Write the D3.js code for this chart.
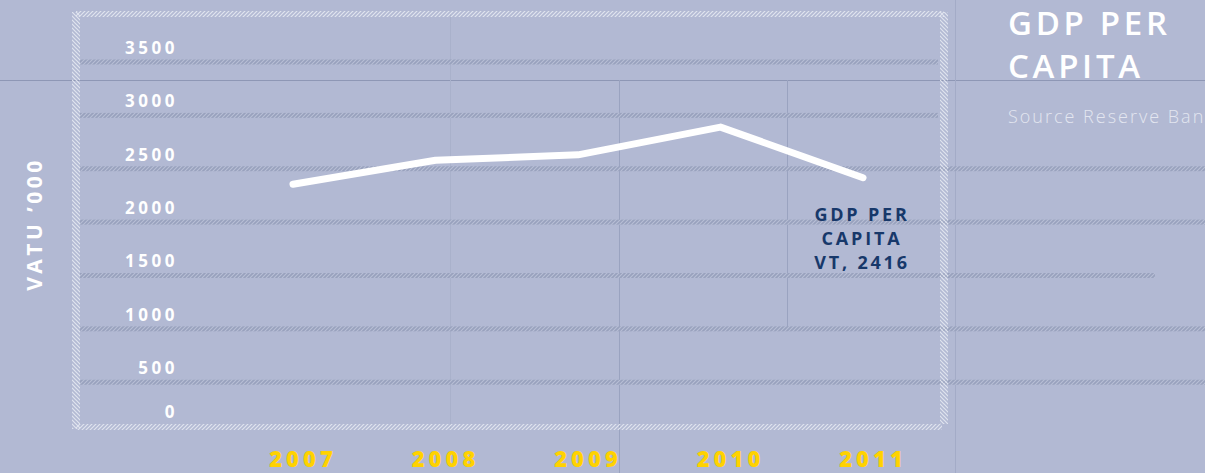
<!DOCTYPE html>
<html>
<head>
<meta charset="utf-8">
<script src="https://cdn.jsdelivr.net/npm/d3@7"></script>
<style>
  html, body { margin: 0; padding: 0; background: #b2b9d3; overflow: hidden; }
  text { font-family: "Open Sans", "DejaVu Sans", sans-serif; }
</style>
</head>
<body>
<div id="chart"></div>
<script>
// data
var years = ["2007", "2008", "2009", "2010", "2011"]
var gdpPerCapita = [2355, 2580, 2630, 2890, 2416]
var yTicks = [0, 500, 1000, 1500, 2000, 2500, 3000, 3500]
var chartTitle = ["GDP PER", "CAPITA"]
var sourceText = "Source Reserve Bank of Vanuatu"
var yTitle = "VATU \u2019000"
var noteLines = ["GDP PER", "CAPITA", "VT, 2416"]

var width = 1205, height = 473

var svg = d3.select("#chart")
  .append("svg")
    .attr("width", width)
    .attr("height", height)

svg.append("rect").attr("width", width).attr("height", height).attr("fill", "#b2b9d3")

// hatch patterns
var defs = svg.append("defs")
var pg = defs.append("pattern").attr("id", "gridHatch")
  .attr("patternUnits", "userSpaceOnUse").attr("width", 4).attr("height", 4)
pg.append("rect").attr("width", 4).attr("height", 4).attr("fill", "#98a1bd")
pg.append("path").attr("d", "M-1,5 L5,-1 M-1,1 L1,-1 M3,5 L5,3")
  .attr("stroke", "#b8bfd5").attr("stroke-width", 1.1)

var pf = defs.append("pattern").attr("id", "frameHatchH")
  .attr("patternUnits", "userSpaceOnUse").attr("width", 4).attr("height", 4)
pf.append("path").attr("d", "M-1,5 L5,-1 M-1,1 L1,-1 M3,5 L5,3")
  .attr("stroke", "#e0e4ef").attr("stroke-width", 1.2)

var pv = defs.append("pattern").attr("id", "frameHatchV")
  .attr("patternUnits", "userSpaceOnUse").attr("width", 4).attr("height", 4)
pv.append("path").attr("d", "M-1,-1 L5,5 M3,-1 L5,1 M-1,3 L1,5")
  .attr("stroke", "#e0e4ef").attr("stroke-width", 1.2)

// scales
var x = d3.scalePoint()
  .domain(years)
  .range([293, 863])

var y = d3.scaleLinear()
  .domain([0, 3500])
  .range([435.6, 62])

// thin guide lines
svg.append("line").attr("x1", 0).attr("x2", width).attr("y1", 80.5).attr("y2", 80.5)
  .attr("stroke", "#8e97b5").attr("stroke-width", 1)
var vlines = [[450.5, 14, 430, "#a9b1cb"], [619.5, 80, 473, "#9aa3c0"], [787.5, 80, 328, "#9aa3c0"], [955.5, 0, 473, "#a3abc7"]]
svg.selectAll(".vline").data(vlines).enter().append("line")
  .attr("x1", function(d) { return d[0] }).attr("x2", function(d) { return d[0] })
  .attr("y1", function(d) { return d[1] }).attr("y2", function(d) { return d[2] })
  .attr("stroke", function(d) { return d[3] }).attr("stroke-width", 1)

// gridlines (some run past the frame)
var gridEnd = { 500: 1205, 1000: 1205, 1500: 1155, 2000: 1205, 2500: 1205, 3000: 938, 3500: 938 }
svg.selectAll(".grid").data(yTicks.filter(function(d) { return d > 0 })).enter().append("rect")
  .attr("x", 80)
  .attr("y", function(d) { return y(d) - 2.5 })
  .attr("width", function(d) { return gridEnd[d] - 80 })
  .attr("height", 5)
  .attr("fill", "url(#gridHatch)")

// hatched frame
svg.append("rect").attr("x", 76).attr("y", 11).attr("width", 868).attr("height", 6).attr("fill", "url(#frameHatchH)")
svg.append("rect").attr("x", 76).attr("y", 424).attr("width", 866).attr("height", 6).attr("fill", "url(#frameHatchH)")
svg.append("rect").attr("x", 72).attr("y", 12).attr("width", 8).attr("height", 417).attr("fill", "url(#frameHatchV)")
svg.append("rect").attr("x", 940).attr("y", 12).attr("width", 8).attr("height", 412).attr("fill", "url(#frameHatchV)")

// y tick labels
svg.selectAll(".ylab").data(yTicks).enter().append("text")
  .attr("x", 178)
  .attr("y", function(d) { return Math.min(y(d) - 8, 418) })
  .attr("text-anchor", "end")
  .attr("fill", "#ffffff")
  .style("font-size", "17px").style("font-weight", "bold").style("letter-spacing", "3.5px")
  .text(function(d) { return d })

// x labels
svg.selectAll(".xlab").data(years).enter().append("text")
  .attr("x", function(d) { return x(d) + 10 })
  .attr("y", 467)
  .attr("text-anchor", "middle")
  .attr("fill", "#ffd200")
  .style("font-size", "22px").style("font-weight", "800").style("letter-spacing", "4px")
  .text(function(d) { return d })

// y title
svg.append("text")
  .attr("transform", "translate(42,224) rotate(-90)")
  .attr("text-anchor", "middle")
  .attr("fill", "#ffffff")
  .style("font-size", "21px").style("font-weight", "bold").style("letter-spacing", "3.5px")
  .text(yTitle)

// the line
var line = d3.line()
  .x(function(d, i) { return x(years[i]) })
  .y(function(d) { return y(d) })
svg.append("path")
  .datum(gdpPerCapita)
  .attr("d", line)
  .attr("fill", "none")
  .attr("stroke", "#ffffff")
  .attr("stroke-width", 7)
  .attr("stroke-linecap", "round")
  .attr("stroke-linejoin", "round")

// note at last point
var last = years.length - 1
svg.selectAll(".note").data(noteLines).enter().append("text")
  .attr("x", x(years[last]) - 1)
  .attr("y", function(d, i) { return 221 + i * 24 })
  .attr("text-anchor", "middle")
  .attr("fill", "#17386a")
  .style("font-size", "18px").style("font-weight", "bold").style("letter-spacing", "2.8px")
  .text(function(d) { return d })

// title block
svg.selectAll(".title").data(chartTitle).enter().append("text")
  .attr("x", 1008)
  .attr("y", function(d, i) { return 35 + i * 43 })
  .attr("fill", "#ffffff")
  .style("font-size", "33px").style("font-weight", 600).style("letter-spacing", "3.7px")
  .text(function(d) { return d })

svg.append("text")
  .attr("x", 1008)
  .attr("y", 123)
  .attr("fill", "#e3e6f0")
  .style("font-size", "18px").style("font-weight", 300).style("letter-spacing", "2px")
  .text(sourceText)
</script>
</body>
</html>
